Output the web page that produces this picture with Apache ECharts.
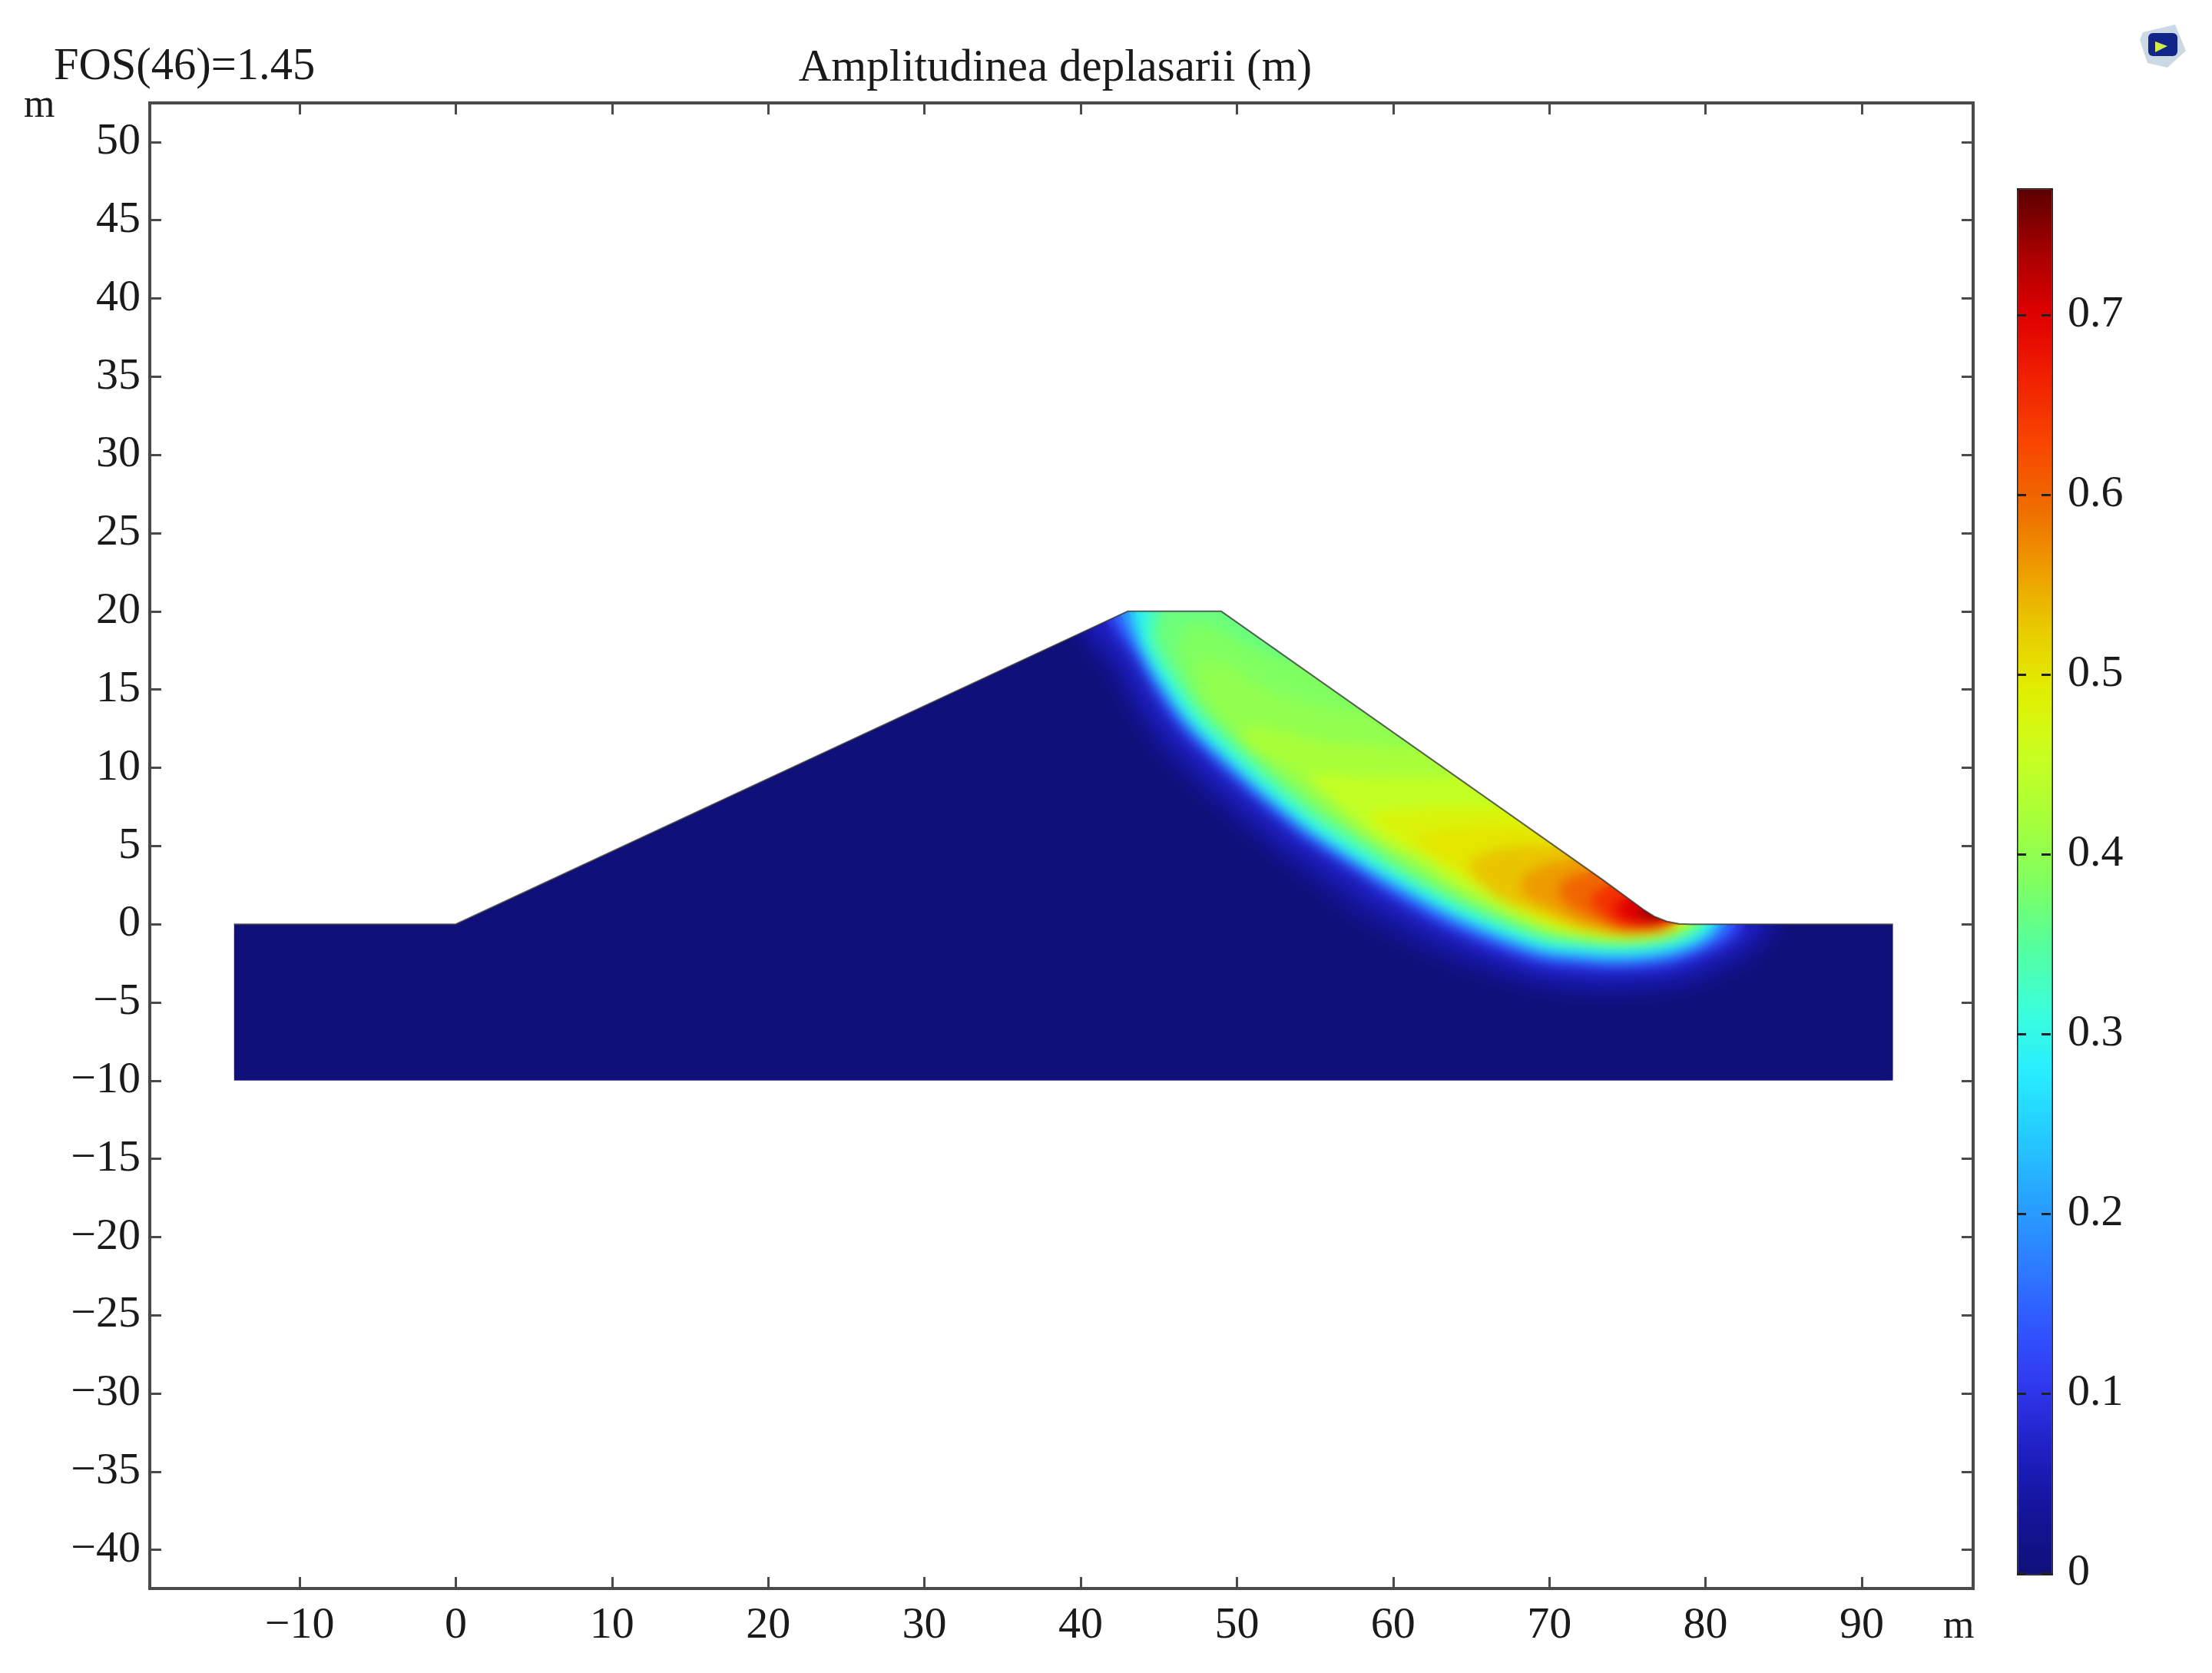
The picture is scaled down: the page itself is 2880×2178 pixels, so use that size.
<!DOCTYPE html>
<html>
<head>
<meta charset="utf-8">
<title>Amplitudinea deplasarii</title>
<script src="https://cdn.jsdelivr.net/npm/echarts@6/dist/echarts.min.js"></script>
<style>
    html, body { margin: 0; background: #fff; }
    #main { width: 2880px; height: 2178px; }
</style>
</head>
<body>
<div id="main"></div>
<script>
// tick labels
var xTicks = [-10, 0, 10, 20, 30, 40, 50, 60, 70, 80, 90];
var yTicks = [-40, -35, -30, -25, -20, -15, -10, -5, 0, 5, 10, 15, 20, 25, 30, 35, 40, 45, 50];
var barTicks = [0, 0.1, 0.2, 0.3, 0.4, 0.5, 0.6, 0.7];

// dam cross-section, metres
var surfaceLine = [[-14.2, 0], [0, 0], [43, 20], [49, 20], [73.4, 2.85], [75.08, 1.62], [76, 0.95], [76.7, 0.5], [77.5, 0.18], [78.3, 0.02], [79, 0], [92, 0]];
var domainBase = [[92, -10], [-14.2, -10]];
// white band round the section, hides the soft edge of the blurred layer
var maskRing = [[-14.2, 0], [-15.7, 0], [-15.7, -11.5], [93.5, -11.5], [93.5, 22], [-15.7, 22], [-15.7, 0]];

// colours of the scale, evenly spaced from 0 to the maximum
var rampColors = ['#10107a', '#14149a', '#1e20c4', '#3038ee', '#3058ff', '#2c80ff', '#28a4ff', '#24ccff', '#28eeff', '#3cffd8', '#55ff9c', '#80ff60', '#a8ff3a', '#c8ff20', '#e2f000', '#e8cc00', '#ee9a00', '#f06a00', '#f84400', '#f02000', '#e00000', '#a80000', '#5c0000'];
var maxDisplacement = 0.7705;

// displacement contours: level, then the curve in metres
var contourLevels = [0.02, 0.04, 0.06, 0.1, 0.15, 0.2, 0.25, 0.3, 0.34, 0.37, 0.385, 0.4, 0.42, 0.45, 0.48, 0.5, 0.53, 0.56, 0.6, 0.65, 0.7, 0.74];
var c002 = [[39.5, 18.35], [41.47, 15.96], [43.12, 13.14], [45.08, 10.55], [48.63, 7.2], [51.35, 4.88], [53.12, 3.51], [56.6, 0.8], [58.33, -0.35], [62.8, -2.5], [68.08, -4.2], [71.69, -4.8], [74.7, -4.85], [78.1, -4.55], [80.8, -3.7], [83.6, -2.1], [85.2, 0]];
var c004 = [[40, 18.6], [42.06, 16.33], [43.68, 13.56], [45.6, 11.02], [49.12, 7.7], [51.82, 5.4], [53.56, 4.05], [56.98, 1.6], [58.7, 0.5], [63.12, -1.75], [68.3, -3.56], [71.76, -4.13], [74.7, -4.25], [77.98, -3.95], [80.48, -3.08], [83.1, -1.6], [84.4, 0]];
var c006 = [[40.6, 18.9], [42.53, 16.62], [44.12, 13.89], [46.01, 11.38], [49.5, 8.09], [52.18, 5.81], [53.92, 4.48], [57.28, 2.2], [58.97, 1.1], [63.35, -1.19], [68.47, -3.09], [71.81, -3.63], [74.7, -3.65], [77.88, -3.4], [80.3, -2.6], [82.6, -1.3], [83.7, 0]];
var c010 = [[41.6, 19.35], [43.29, 17.1], [44.84, 14.43], [46.69, 11.97], [50.13, 8.73], [52.77, 6.49], [54.49, 5.17], [57.78, 3.06], [59.38, 1.95], [63.68, -0.45], [68.72, -2.41], [71.89, -2.89], [74.7, -3], [77.73, -2.73], [79.97, -1.95], [81.8, -1], [82.6, 0]];
var c015 = [[42.1, 19.55], [43.55, 17.26], [45.08, 14.61], [46.91, 12.17], [50.35, 8.94], [52.97, 6.71], [54.68, 5.4], [57.94, 3.31], [59.57, 2.23], [63.84, -0.14], [68.84, -2.08], [71.92, -2.54], [74.7, -2.7], [77.66, -2.38], [79.83, -1.63], [81.3, -0.8], [82, 0]];
var c020 = [[42.6, 19.8], [43.74, 17.38], [45.26, 14.75], [47.09, 12.32], [50.51, 9.1], [53.12, 6.89], [54.83, 5.58], [58.07, 3.5], [59.73, 2.48], [63.98, 0.16], [68.94, -1.8], [71.95, -2.25], [74.7, -2.4], [77.6, -2.09], [79.7, -1.36], [81.4, 0]];
var c025 = [[43.1, 20], [43.93, 17.49], [45.44, 14.88], [47.25, 12.47], [50.66, 9.26], [53.27, 7.05], [54.97, 5.75], [58.19, 3.68], [59.87, 2.69], [64.09, 0.38], [69.02, -1.57], [71.97, -2], [74.7, -2.15], [77.55, -1.85], [79.6, -1.13], [81, 0]];
var c030 = [[43.5, 20], [44.1, 17.6], [45.6, 15], [47.4, 12.6], [50.8, 9.4], [53.4, 7.2], [55.1, 5.9], [58.3, 3.85], [60, 2.9], [64.2, 0.6], [69.1, -1.33], [72, -1.75], [74.7, -1.9], [77.5, -1.6], [79.5, -0.9], [80.6, 0]];
var c034 = [[44.4, 20], [44.48, 17.84], [45.96, 15.27], [47.74, 12.9], [51.12, 9.72], [53.7, 7.54], [55.39, 6.25], [58.55, 4.22], [60.22, 3.24], [64.38, 0.96], [69.23, -0.95], [72.04, -1.35], [74.7, -1.5], [77.42, -1.21], [79.34, -0.54], [80.2, 0]];
var c037 = [[45.2, 20], [44.91, 18.1], [46.36, 15.57], [48.11, 13.23], [51.47, 10.07], [54.03, 7.91], [55.71, 6.63], [58.82, 4.64], [60.4, 3.53], [64.54, 1.27], [69.35, -0.68], [72.06, -1.15], [74.7, -1.3], [77.38, -1.01], [79.25, -0.35], [79.8, 0]];
var c0385 = [[54, 16.5], [51, 17.6], [48.5, 18.9], [46.8, 19], [46.3, 17.5], [47, 15.2], [48.3, 13.4], [51.65, 10.27], [54.2, 8.12], [55.88, 6.85], [58.97, 4.87], [60.55, 3.76], [64.66, 1.5], [69.44, -0.5], [72.08, -1.05], [74.7, -1.22], [77.34, -0.93], [79.18, -0.28], [79.6, 0]];
var c040 = [[58.5, 13.35], [55, 14], [52, 15], [49.5, 16.5], [47.8, 16.8], [47.6, 15.6], [48.53, 13.6], [51.85, 10.47], [54.39, 8.33], [56.06, 7.06], [59.13, 5.1], [60.7, 3.99], [64.78, 1.76], [69.53, -0.3], [72.1, -0.95], [74.7, -1.15], [77.3, -0.85], [79.1, -0.2], [79.4, 0]];
var c042 = [[61.6, 11.2], [58, 11.5], [55, 11.8], [52, 12.6], [50.3, 12.4], [50.8, 11.2], [53.4, 9.9], [55.5, 8.3], [58.3, 5.6], [60.7, 4.4], [62, 3.6], [64.2, 2.05], [69.1, -0.2], [72, -0.8], [74.7, -1.05], [77.3, -0.8], [78.9, -0.2], [79.2, 0]];
var c045 = [[64.2, 9.36], [61, 9.4], [58, 9.4], [55.5, 9.6], [54.6, 9.2], [55.6, 8.4], [58.3, 6.2], [60, 5], [62, 4.1], [64.2, 2.6], [69.1, 0.1], [72, -0.65], [74.7, -0.95], [77.2, -0.75], [78.7, -0.15], [79, 0]];
var c048 = [[67, 7.4], [64, 7.5], [60.5, 7.3], [58.6, 7], [59.3, 6.1], [61, 5], [64.2, 3.1], [69.1, 0.4], [72, -0.5], [74.7, -0.87], [77.1, -0.7], [78.5, -0.15], [78.8, 0]];
var c050 = [[68.8, 6.14], [66, 6.3], [62.5, 5.9], [61.4, 5.3], [62.5, 4.5], [64.5, 3.4], [66, 2.2], [69.1, 0.55], [72, -0.4], [74.7, -0.75], [77, -0.6], [78.4, -0.12], [78.7, 0]];
var c053 = [[70.5, 4.95], [68, 5], [65.8, 4.5], [64.9, 3.7], [65.4, 2.8], [67, 1.5], [69.6, 0.65], [72, -0.25], [74.7, -0.65], [76.9, -0.5], [78.2, -0.1], [78.5, 0]];
var c056 = [[71.7, 4.11], [70, 3.9], [68.3, 3], [68.4, 1.9], [70.3, 0.85], [72.2, -0.05], [74.7, -0.52], [76.8, -0.4], [78, -0.1], [78.35, 0]];
var c060 = [[72.8, 3.34], [71.3, 3], [70.6, 2.2], [71.2, 1.2], [72.8, 0.35], [74.7, -0.38], [76.6, -0.32], [77.9, -0.08], [78.2, 0]];
var c065 = [[74, 2.5], [73, 2.05], [72.7, 1.4], [73.4, 0.6], [74.7, -0.2], [76.5, -0.22], [77.7, -0.05], [78.1, 0.05]];
var c070 = [[75.2, 1.65], [74.4, 1.4], [74.3, 0.7], [75.1, 0.2], [76.5, -0.05], [77.5, 0.1], [77.8, 0.15]];
var c074 = [[76.1, 0.9], [75.6, 0.8], [75.9, 0.4], [76.8, 0.2], [77.3, 0.3]];
var contourCurves = [c002, c004, c006, c010, c015, c020, c025, c030, c034, c037, c0385, c040, c042, c045, c048, c050, c053, c056, c060, c065, c070, c074];

var serif = '"Liberation Serif", "Times New Roman", serif';
var axisColor = '#4a4a4a';
var labelColor = '#1a1a1a';
var labelSize = 58;

function minusLabel(value) {
    return String(value).replace('-', '\u2212');
}

// smooth curve through the contour, closed along the top of the dam
function contourPath(curve, api) {
    var pts = curve.map(function(p) { return api.coord(p); });
    var d = 'M' + pts[0][0] + ' ' + pts[0][1];
    for (var i = 0; i < pts.length - 1; i++) {
        var p0 = pts[Math.max(i - 1, 0)], p1 = pts[i], p2 = pts[i + 1], p3 = pts[Math.min(i + 2, pts.length - 1)];
        d += 'C' + (p1[0] + (p2[0] - p0[0]) / 6) + ' ' + (p1[1] + (p2[1] - p0[1]) / 6) + ' '
            + (p2[0] - (p3[0] - p1[0]) / 6) + ' ' + (p2[1] - (p3[1] - p1[1]) / 6) + ' '
            + p2[0] + ' ' + p2[1];
    }
    var startX = curve[0][0], endX = curve[curve.length - 1][0];
    for (var j = surfaceLine.length - 1; j >= 0; j--) {
        if (surfaceLine[j][0] > startX && surfaceLine[j][0] < endX) {
            var s = api.coord(surfaceLine[j]);
            d += 'L' + s[0] + ' ' + s[1];
        }
    }
    return d + 'Z';
}

function renderDomain(params, api) {
    return {
        type: 'polygon',
        shape: { points: surfaceLine.concat(domainBase).map(function(p) { return api.coord(p); }) },
        style: { fill: api.visual('color') }
    };
}

function renderContour(params, api) {
    return {
        type: 'path',
        shape: { pathData: contourPath(contourCurves[params.dataIndex], api) },
        style: { fill: api.visual('color') }
    };
}

function renderMask(params, api) {
    return {
        type: 'polygon',
        shape: { points: surfaceLine.concat(domainBase, maskRing).map(function(p) { return api.coord(p); }) },
        style: { fill: '#fff' }
    };
}

// the field is drawn twice: sharp underneath, blurred above it
function fieldSeries(zlevel) {
    return [
        { type: 'custom', zlevel: zlevel, silent: true, renderItem: renderDomain, encode: { x: 1, y: 2 }, data: [[0, 0, 0]] },
        { type: 'custom', zlevel: zlevel, silent: true, renderItem: renderContour, encode: { x: 1, y: 2 },
            data: contourLevels.map(function(v) { return [v, 0, 0]; }) }
    ];
}

function mainAxis(type, ticks, min, max, position, showLabel) {
    return {
        type: 'value',
        gridIndex: 0,
        min: min,
        max: max,
        position: position,
        splitLine: { show: false },
        axisLine: { show: false, onZero: false },
        axisTick: { inside: true, length: 15, lineStyle: { color: axisColor, width: 3 }, customValues: ticks },
        axisLabel: {
            show: showLabel,
            customValues: ticks,
            formatter: minusLabel,
            margin: type === 'x' ? 20 : 12,
            padding: type === 'x' ? 0 : [12, 0, 0, 0],
            fontFamily: serif,
            fontSize: labelSize,
            color: labelColor
        }
    };
}

function barAxis(position, showLabel) {
    return {
        type: 'value',
        gridIndex: 1,
        min: 0,
        max: maxDisplacement,
        position: position,
        z: 10,
        splitLine: { show: false },
        axisLine: { show: false, onZero: false },
        axisTick: { inside: true, length: 12, lineStyle: { color: '#222', width: 3 }, customValues: barTicks },
        axisLabel: {
            show: showLabel,
            customValues: barTicks,
            margin: 22,
            padding: [16, 0, 0, 0],
            fontFamily: serif,
            fontSize: labelSize,
            color: labelColor
        }
    };
}

var titleStyle = { fontFamily: serif, fontSize: 59, fontWeight: 'normal', color: labelColor };
var fosStyle = { fontFamily: serif, fontSize: 58.5, fontWeight: 'normal', color: labelColor };
var unitStyle = { fontFamily: serif, fontSize: 52, fontWeight: 'normal', color: labelColor };

echarts.init(document.getElementById('main')).setOption({
    backgroundColor: '#fff',
    animation: false,
    title: [
        { text: 'Amplitudinea deplasarii (m)', left: 1374, top: 60, padding: 0, textAlign: 'center', textStyle: titleStyle },
        { text: 'FOS(46)=1.45', left: 70, top: 58, padding: 0, textStyle: fosStyle },
        { text: 'm', left: 31, top: 112, padding: 0, textStyle: unitStyle },
        { text: 'm', left: 2530, top: 2092, padding: 0, textStyle: unitStyle }
    ],
    grid: [
        { left: 195, top: 134, width: 2374, height: 1934, show: true, borderColor: axisColor, borderWidth: 4 },
        { left: 2626, top: 245, width: 44, height: 1803 }
    ],
    xAxis: [
        mainAxis('x', xTicks, -19.59, 97.13, 'bottom', true),
        mainAxis('x', xTicks, -19.59, 97.13, 'top', false),
        { type: 'value', gridIndex: 1, min: 0, max: 1, show: false }
    ],
    yAxis: [
        mainAxis('y', yTicks, -42.47, 52.5, 'left', true),
        mainAxis('y', yTicks, -42.47, 52.5, 'right', false),
        barAxis('right', true),
        barAxis('left', false)
    ],
    visualMap: {
        type: 'continuous',
        show: true,
        min: 0,
        max: maxDisplacement,
        dimension: 0,
        seriesIndex: [0, 1, 2, 3],
        left: 2626,
        top: 245,
        itemWidth: 44,
        itemHeight: 1803,
        padding: 0,
        text: null,
        calculable: false,
        hoverLink: false,
        borderColor: '#222',
        borderWidth: 3,
        inRange: { color: rampColors }
    },
    series: fieldSeries(1).concat(fieldSeries(2), [
        { type: 'custom', zlevel: 3, silent: true, renderItem: renderMask, encode: { x: 1, y: 2 }, data: [[0, 0, 0]] },
        {
            type: 'line',
            zlevel: 3,
            showSymbol: false,
            silent: true,
            lineStyle: { color: 'rgba(50,50,50,0.75)', width: 2 },
            data: surfaceLine
        }
    ]),
    graphic: [
        // software logo in the corner
        { type: 'polygon', shape: { points: [[2790, 42], [2832, 32], [2846, 66], [2822, 88], [2796, 82], [2786, 52]] }, style: { fill: '#ccd8e4' } },
        { type: 'rect', shape: { x: 2797, y: 43, width: 38, height: 30, r: 6 }, style: { fill: '#12268a' } },
        { type: 'polygon', shape: { points: [[2806, 54], [2822, 60], [2806, 68]] }, style: { fill: '#d4ec4a' } }
    ]
});

// soften the contour steps on the upper field layer
var fieldLayer = document.querySelector('canvas[data-zr-dom-id="zr_2"]');
if (fieldLayer) {
    fieldLayer.style.filter = 'blur(8px)';
}
</script>
</body>
</html>
